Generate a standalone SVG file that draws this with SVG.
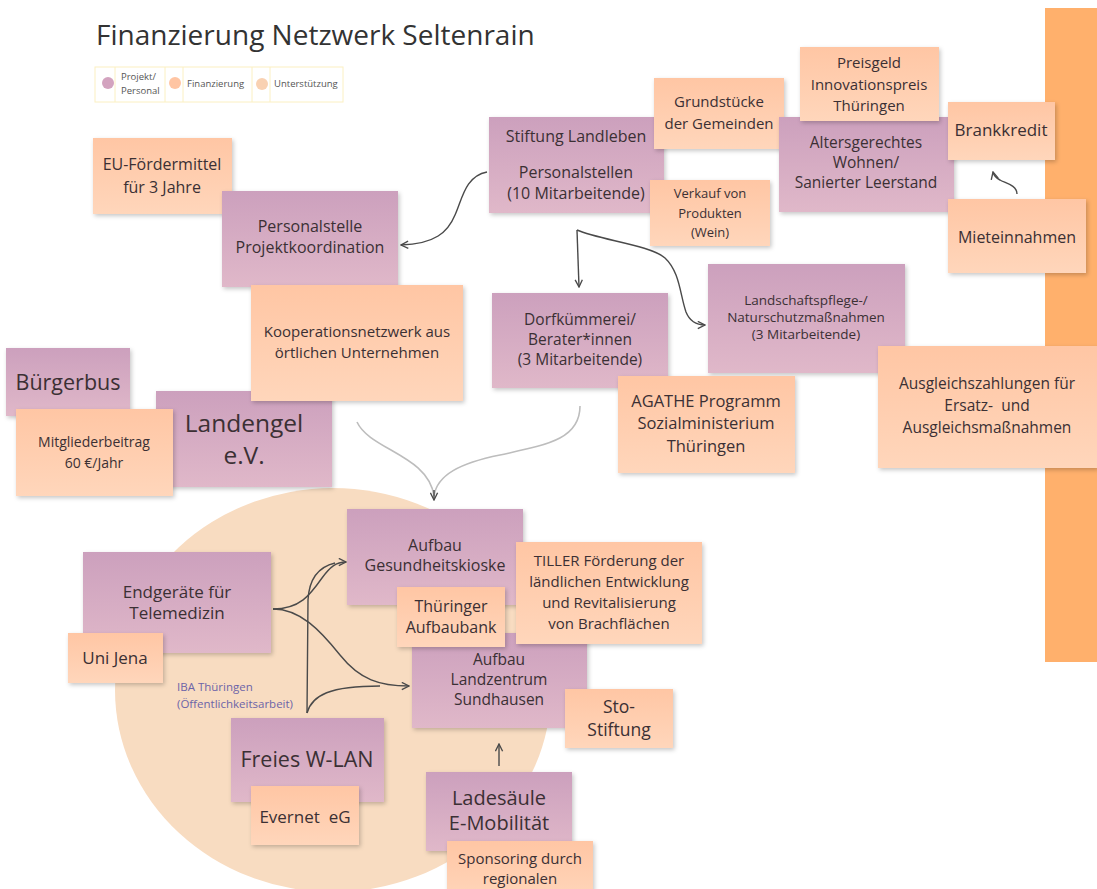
<svg xmlns="http://www.w3.org/2000/svg" width="1097" height="889" viewBox="0 0 1097 889">
<defs>
<linearGradient id="gp" x1="0" y1="0" x2="0" y2="1"><stop offset="0" stop-color="#cca0bd"/><stop offset="1" stop-color="#e0b8c9"/></linearGradient>
<linearGradient id="go" x1="0" y1="0" x2="0" y2="1"><stop offset="0" stop-color="#ffc6a4"/><stop offset="1" stop-color="#ffd6bb"/></linearGradient>
<filter id="sh" x="-10%" y="-10%" width="125%" height="130%"><feDropShadow dx="1.5" dy="2" stdDeviation="2" flood-color="#000" flood-opacity="0.22"/></filter>
<marker id="ah" viewBox="0 0 10 10" refX="9" refY="5" markerWidth="9" markerHeight="9" markerUnits="userSpaceOnUse" orient="auto"><path d="M1,1 L9,5 L1,9" fill="none" stroke="#4a4a4a" stroke-width="1.5"/></marker>
</defs>
<style>
.p{fill:url(#gp);filter:url(#sh)}
.o{fill:url(#go);filter:url(#sh)}
text{font-family:"Open Sans","Noto Sans","Liberation Sans",sans-serif;fill:#3b3034;text-anchor:middle}
.c{fill:none;stroke:#4a4a4a;stroke-width:1.4}
.g{fill:none;stroke:#bdbdbd;stroke-width:1.6}
.lg{font-size:9.5px;text-anchor:start;fill:#555}
</style>
<rect width="1097" height="889" fill="#ffffff"/>
<rect x="1045" y="8" width="52" height="654" fill="#ffb06c"/>
<ellipse cx="333" cy="690" rx="218" ry="202" fill="#f8dcc1"/>

<text x="96" y="45" style="font-size:28px;text-anchor:start;fill:#333">Finanzierung Netzwerk Seltenrain</text>

<g id="legend">
<rect x="95" y="67" width="248" height="35" fill="#fff" stroke="#fbf0c2" stroke-width="1"/>
<path d="M115 67V102M165 67V102M183 67V102M252 67V102M270 67V102" stroke="#fbf0c2" stroke-width="1"/>
<circle cx="108" cy="83" r="6" fill="#d3a3bf"/>
<circle cx="175" cy="83" r="6" fill="#ffc5a3"/>
<circle cx="262" cy="84" r="6" fill="#f9d1b2"/>
<text class="lg" x="121" y="80">Projekt/</text>
<text class="lg" x="121" y="94">Personal</text>
<text class="lg" x="187" y="87">Finanzierung</text>
<text class="lg" x="274" y="87">Unterstützung</text>
</g>

<g id="connectors">
<path class="c" d="M487 172 C465 176 462 200 455 215 C448 232 435 244 401 245" marker-end="url(#ah)"/>
<path class="c" d="M577 230 L579 287" marker-end="url(#ah)"/>
<path class="c" d="M577 230 C600 240 650 245 665 258 C680 272 680 295 686 312 C690 322 697 325 705 325" marker-end="url(#ah)"/>
<path class="g" d="M357 422 C370 450 428 455 434 496"/>
<path class="g" d="M580 406 C580 440 545 445 500 455 C460 463 437 475 434 496"/>
<path class="c" d="M434 490 L434 500" marker-end="url(#ah)"/>
<path class="c" d="M1017 194 C1017 185 1005 183 1000 180 C996 178 994 176 993 172" marker-end="url(#ah)"/>
<path class="c" d="M273 609 C300 609 310 595 322 578 C330 567 336 562 346 562" marker-end="url(#ah)"/>
<path class="c" d="M273 609 C300 609 320 630 340 655 C360 680 380 686 409 686" marker-end="url(#ah)"/>
<path class="c" d="M307 713 L308 600 C309 580 318 567 335 563"/>
<path class="c" d="M307 713 C312 695 330 686 380 686"/>
<path class="c" d="M499 766 L499 744" marker-end="url(#ah)"/>
</g>

<g id="stiftung"><rect class="p" x="489" y="117" width="175" height="96"/>
<text x="576" y="142" style="font-size:16px">Stiftung Landleben</text>
<text x="576" y="178" style="font-size:16px">Personalstellen</text>
<text x="576" y="199" style="font-size:16px">(10 Mitarbeitende)</text></g>
<g id="grundstuecke"><rect class="o" x="654" y="78" width="130" height="71"/>
<text x="719" y="107" style="font-size:15px">Grundstücke</text>
<text x="719" y="129" style="font-size:15px">der Gemeinden</text></g>
<g id="verkauf"><rect class="o" x="650" y="180" width="120" height="66"/>
<text x="710" y="198" style="font-size:13px">Verkauf von</text>
<text x="710" y="218" style="font-size:13px">Produkten</text>
<text x="710" y="237" style="font-size:13px">(Wein)</text></g>
<g id="alters"><rect class="p" x="779" y="117" width="175" height="95"/>
<text x="866" y="148" style="font-size:15.5px">Altersgerechtes</text>
<text x="866" y="168" style="font-size:15.5px">Wohnen/</text>
<text x="866" y="188" style="font-size:15.5px">Sanierter Leerstand</text></g>
<g id="preisgeld"><rect class="o" x="800" y="47" width="139" height="74"/>
<text x="869" y="68" style="font-size:15px">Preisgeld</text>
<text x="869" y="90" style="font-size:15px">Innovationspreis</text>
<text x="869" y="111" style="font-size:15px">Thüringen</text></g>
<g id="brankkredit"><rect class="o" x="948" y="102" width="107" height="58"/>
<text x="1001" y="136" style="font-size:17px">Brankkredit</text></g>
<g id="mieteinnahmen"><rect class="o" x="948" y="199" width="138" height="74"/>
<text x="1017" y="243" style="font-size:16px">Mieteinnahmen</text></g>

<g id="eu"><rect class="o" x="93" y="138" width="139" height="76"/>
<text x="162" y="170" style="font-size:16px">EU-Fördermittel</text>
<text x="162" y="193" style="font-size:16px">für 3 Jahre</text></g>
<g id="personalstelle"><rect class="p" x="222" y="191" width="176" height="96"/>
<text x="310" y="232" style="font-size:16px">Personalstelle</text>
<text x="310" y="253" style="font-size:16px">Projektkoordination</text></g>
<g id="buergerbus"><rect class="p" x="6" y="348" width="124" height="68"/>
<text x="68" y="390" style="font-size:21.5px">Bürgerbus</text></g>
<g id="landengel"><rect class="p" x="156" y="391" width="176" height="96"/>
<text x="244" y="432" style="font-size:24.5px">Landengel</text>
<text x="244" y="464" style="font-size:24.5px">e.V.</text></g>
<g id="koop"><rect class="o" x="251" y="285" width="212" height="116"/>
<text x="357" y="337" style="font-size:15px">Kooperationsnetzwerk aus</text>
<text x="357" y="358" style="font-size:15px">örtlichen Unternehmen</text></g>
<g id="mitglieder"><rect class="o" x="16" y="409" width="157" height="87"/>
<text x="94" y="447" style="font-size:14px">Mitgliederbeitrag</text>
<text x="94" y="468" style="font-size:14px">60 €/Jahr</text></g>

<g id="dorf"><rect class="p" x="492" y="293" width="176" height="95"/>
<text x="580" y="325" style="font-size:15.5px">Dorfkümmerei/</text>
<text x="580" y="345" style="font-size:15.5px">Berater*innen</text>
<text x="580" y="365" style="font-size:15.5px">(3 Mitarbeitende)</text></g>
<g id="landschaft"><rect class="p" x="708" y="264" width="197" height="109"/>
<text x="806" y="305" style="font-size:13.5px">Landschaftspflege-/</text>
<text x="806" y="322" style="font-size:13.5px">Naturschutzmaßnahmen</text>
<text x="806" y="339" style="font-size:13.5px">(3 Mitarbeitende)</text></g>
<g id="agathe"><rect class="o" x="618" y="376" width="177" height="97"/>
<text x="706" y="407" style="font-size:16.5px">AGATHE Programm</text>
<text x="706" y="429" style="font-size:16.5px">Sozialministerium</text>
<text x="706" y="452" style="font-size:16.5px">Thüringen</text></g>
<g id="ausgleich"><rect class="o" x="878" y="346" width="219" height="122"/>
<text x="987" y="389" style="font-size:15.5px">Ausgleichszahlungen für</text>
<text x="987" y="411" style="font-size:15.5px" xml:space="preserve">Ersatz-  und</text>
<text x="987" y="433" style="font-size:15.5px">Ausgleichsmaßnahmen</text></g>

<g id="gesund"><rect class="p" x="347" y="509" width="176" height="96"/>
<text x="435" y="551" style="font-size:16px">Aufbau</text>
<text x="435" y="571" style="font-size:16px">Gesundheitskioske</text></g>
<g id="endgeraete"><rect class="p" x="83" y="552" width="188" height="101"/>
<text x="177" y="598" style="font-size:17px">Endgeräte für</text>
<text x="177" y="619" style="font-size:17px">Telemedizin</text></g>
<g id="unijena"><rect class="o" x="68" y="633" width="95" height="50"/>
<text x="115" y="664" style="font-size:17px">Uni Jena</text></g>
<g id="landzentrum"><rect class="p" x="412" y="633" width="175" height="95"/>
<text x="499" y="665" style="font-size:15.5px">Aufbau</text>
<text x="499" y="685" style="font-size:15.5px">Landzentrum</text>
<text x="499" y="705" style="font-size:15.5px">Sundhausen</text></g>
<g id="aufbaubank"><rect class="o" x="397" y="587" width="108" height="60"/>
<text x="451" y="612" style="font-size:16px">Thüringer</text>
<text x="451" y="633" style="font-size:16px">Aufbaubank</text></g>
<g id="tiller"><rect class="o" x="516" y="542" width="186" height="102"/>
<text x="609" y="566" style="font-size:15px">TILLER Förderung der</text>
<text x="609" y="587" style="font-size:15px">ländlichen Entwicklung</text>
<text x="609" y="608" style="font-size:15px">und Revitalisierung</text>
<text x="609" y="629" style="font-size:15px">von Brachflächen</text></g>
<g id="sto"><rect class="o" x="565" y="689" width="108" height="59"/>
<text x="619" y="713" style="font-size:17.5px">Sto-</text>
<text x="619" y="736" style="font-size:17.5px">Stiftung</text></g>
<g id="iba">
<text x="177" y="691" style="font-size:11.5px;text-anchor:start;fill:#6c64a8">IBA Thüringen</text>
<text x="177" y="708" style="font-size:11.5px;text-anchor:start;fill:#6c64a8">(Öffentlichkeitsarbeit)</text></g>
<g id="wlan"><rect class="p" x="231" y="718" width="153" height="84"/>
<text x="307" y="767" style="font-size:21.5px">Freies W-LAN</text></g>
<g id="evernet"><rect class="o" x="251" y="786" width="108" height="59"/>
<text x="305" y="823" style="font-size:17px" xml:space="preserve">Evernet  eG</text></g>
<g id="ladesaeule"><rect class="p" x="426" y="772" width="146" height="79"/>
<text x="499" y="805" style="font-size:20px">Ladesäule</text>
<text x="499" y="830" style="font-size:20px">E-Mobilität</text></g>
<g id="sponsoring"><rect class="o" x="447" y="841" width="146" height="60"/>
<text x="520" y="864" style="font-size:15px">Sponsoring durch</text>
<text x="520" y="884" style="font-size:15px">regionalen</text></g>
</svg>
